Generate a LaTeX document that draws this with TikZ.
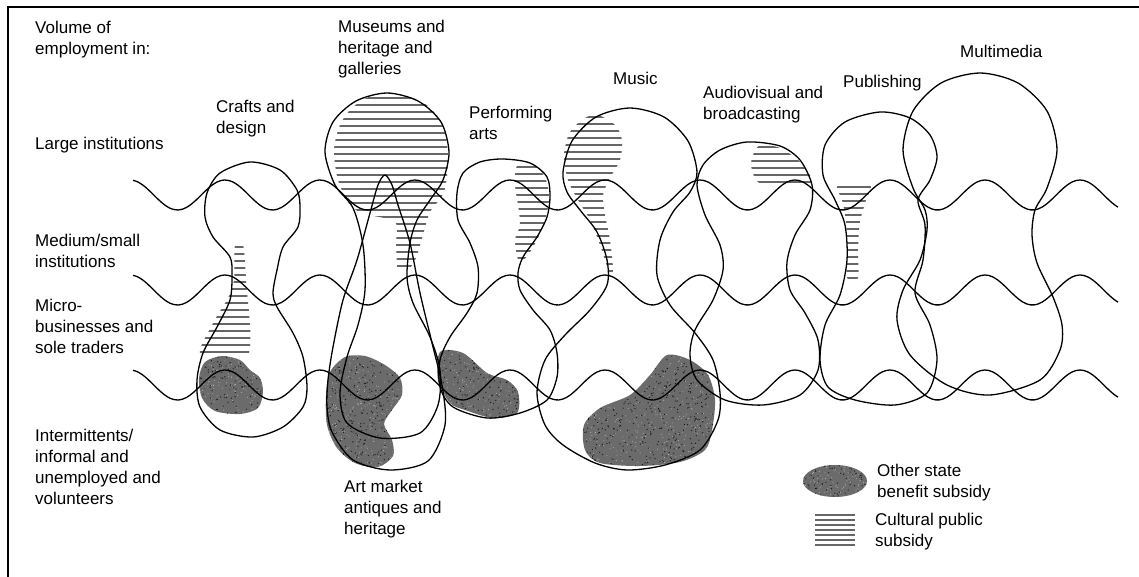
\documentclass[tikz,border=0pt]{standalone}
\usepackage{fontspec}
\setmainfont{Liberation Sans}

% speckles over a benefit blob: x, y, width, height, count
\newcommand{\specks}[5]{%
  \fill[benefit] (#1,#2) rectangle ++(#3,#4);
  \foreach \i in {1,...,#5} {
    \fill[black!90] ({#1+rnd*#3},{#2+rnd*#4}) circle (0.65pt);
    \fill[black!30] ({#1+rnd*#3},{#2+rnd*#4}) circle (0.5pt);
  }}

\begin{document}
\begin{tikzpicture}[
    x=1pt, y=-1pt,
    outline/.style={line width=1.3pt, line join=round},
    wave/.style={line width=1.3pt},
    hatch/.style={line width=1.8pt, draw=black!60},
    benefit/.style={fill=black!58},
    every node/.style={font=\fontsize{17}{21}\selectfont, inner sep=0pt, align=left, anchor=west}
]
\useasboundingbox (0,0) rectangle (1139,577);
\pgfmathsetseed{11}
\draw[line width=2pt] (8,590) -- (8,7) -- (1150,7);

% Other state benefit subsidy
\begin{scope}
  \clip plot[smooth cycle] coordinates {(205,362) (222,356) (240,360) (250,370) (260,378) (263,392) (258,408) (240,414) (215,411) (202,398) (199,378)};
  \specks{196}{352}{70}{65}{160}
\end{scope}
\begin{scope}
  \clip plot[smooth cycle] coordinates {(330,372) (345,357) (365,356) (385,365) (400,378) (402,395) (392,410) (384,424) (392,440) (393,456) (378,467) (355,463) (337,448) (327,425) (326,395)};
  \specks{322}{352}{84}{118}{300}
\end{scope}
\begin{scope}
  \clip plot[smooth cycle] coordinates {(440,352) (463,353) (487,373) (507,380) (518,392) (517,413) (493,418) (465,410) (450,403) (438,380)};
  \specks{434}{348}{88}{74}{200}
\end{scope}
\begin{scope}
  \clip plot[smooth cycle] coordinates {(667,355) (690,360) (708,375) (715,400) (712,430) (705,450) (680,462) (640,466) (600,463) (585,450) (584,425) (600,408) (630,395) (650,375)};
  \specks{580}{350}{140}{120}{480}
\end{scope}

% Cultural public subsidy
\begin{scope}
  \clip plot[smooth cycle] coordinates {(235,245) (243,245) (246,280) (248,355) (201,355) (212,325) (228,298) (234,280)};
  \foreach \y in {247,254,...,353} \draw[hatch] (195,\y) -- (252,\y);
\end{scope}
\begin{scope}
  \clip plot[smooth cycle] coordinates {(372,96) (405,96) (428,106) (444,128) (448,160) (444,192) (430,212) (423,235) (416,258) (408,270) (398,270) (396,245) (395,222) (365,214) (350,205) (338,180) (334,150) (340,125) (352,108)};
  \foreach \y in {98,105,...,270} \draw[hatch] (330,\y) -- (456,\y);
\end{scope}
\begin{scope}
  \clip plot[smooth cycle] coordinates {(517,166) (535,165) (546,180) (549,200) (545,220) (538,238) (528,255) (519,262) (515,240) (520,225) (518,205) (515,185)};
  \foreach \y in {167,174,...,262} \draw[hatch] (510,\y) -- (552,\y);
\end{scope}
\begin{scope}
  \clip plot[smooth cycle] coordinates {(598,115) (615,125) (622,140) (620,160) (610,178) (603,195) (605,215) (610,240) (613,270) (609,272) (600,245) (590,220) (578,200) (568,180) (564,155) (570,132) (585,118)};
  \foreach \y in {117,124,...,272} \draw[hatch] (560,\y) -- (625,\y);
\end{scope}
\begin{scope}
  \clip plot[smooth cycle] coordinates {(760,145) (780,148) (798,160) (808,172) (810,184) (762,184) (752,170) (752,158)};
  \foreach \y in {147,154,...,184} \draw[hatch] (748,\y) -- (812,\y);
\end{scope}
\begin{scope}
  \clip plot[smooth cycle] coordinates {(838,185) (870,185) (866,200) (860,222) (858,250) (858,278) (847,278) (847,250) (846,222) (842,200)};
  \foreach \y in {187,194,...,278} \draw[hatch] (835,\y) -- (872,\y);
\end{scope}

% Level boundaries
\foreach \c in {195,290,385}
  \draw[wave] plot[domain=133:1118, samples=260, smooth] (\x, {\c-15*cos((\x-225)*3.78947)});

% Sectors
\draw[outline] plot[smooth cycle] coordinates {(250,162) (280,170) (297,190) (300,207) (298,227) (283,247) (277,270) (273,293) (277,307) (293,333) (303,357) (307,387) (303,407) (283,427) (253,437) (220,430) (200,407) (197,380) (203,353) (217,327) (230,300) (232,275) (230,257) (213,237) (205,217) (207,193) (220,173)};
\draw[outline] plot[smooth cycle] coordinates {(387,93) (418,101) (441,122) (449,152) (443,180) (430,200) (417,220) (410,243) (407,277) (413,303) (430,337) (440,370) (438,405) (420,433) (380,438) (347,423) (340,393) (347,357) (358,325) (365,290) (363,245) (353,208) (335,185) (325,152) (333,122) (356,101)};
\draw[outline] plot[smooth cycle] coordinates {(385,175) (392,185) (398,205) (410,243) (420,293) (433,347) (442,385) (445,425) (428,461) (390,470) (353,460) (332,432) (327,407) (328,380) (333,347) (343,300) (357,260) (370,213) (378,185)};
\draw[outline] plot[smooth cycle] coordinates {(503,159) (530,163) (547,177) (550,197) (547,217) (537,237) (523,257) (518,273) (520,290) (533,310) (550,330) (557,353) (557,377) (547,400) (520,413) (487,418) (453,407) (440,387) (440,360) (450,337) (467,313) (477,293) (478,267) (470,243) (458,220) (457,193) (463,173) (480,162)};
\draw[outline] plot[smooth cycle] coordinates {(630,108) (664,117) (688,141) (697,172) (690,192) (673,212) (660,240) (657,275) (670,305) (695,333) (713,360) (720,393) (718,420) (700,450) (665,465) (627,470) (595,463) (563,445) (545,425) (537,393) (545,360) (565,335) (590,310) (607,285) (607,260) (597,232) (580,210) (567,192) (563,172) (572,141) (596,117)};
\draw[outline] plot[smooth cycle] coordinates {(747,142) (780,146) (800,160) (812,185) (810,210) (795,235) (787,262) (790,290) (805,313) (818,340) (818,370) (800,395) (763,405) (725,400) (697,380) (690,355) (695,330) (713,300) (723,270) (720,245) (705,215) (697,185) (703,165) (720,150)};
\draw[outline] plot[smooth cycle] coordinates {(880,112) (910,118) (930,135) (937,157) (930,180) (918,200) (925,225) (923,260) (915,293) (930,325) (937,360) (927,393) (895,405) (855,400) (828,387) (820,360) (825,325) (840,295) (847,260) (845,225) (835,200) (823,175) (825,145) (845,122)};
\draw[outline] plot[smooth cycle] coordinates {(980,73) (1018,83) (1047,111) (1057,150) (1047,188) (1035,210) (1032,235) (1037,263) (1053,297) (1062,325) (1060,350) (1040,380) (990,395) (947,385) (910,355) (897,320) (903,290) (920,260) (927,230) (925,210) (913,188) (903,150) (913,111) (941,83)};

% Level labels
\node (volume) at (35,39.5) {Volume of\\employment in:};
\node (large) at (35,145) {Large institutions};
\node (medium) at (35,251) {Medium/small\\institutions};
\node (micro) at (35,326) {Micro-\\businesses and\\sole traders};
\node (informal) at (35,466.5) {Intermittents/\\informal and\\unemployed and\\volunteers};

% Sector labels
\node (crafts) at (216,118.5) {Crafts and\\design};
\node (museums) at (338,49.5) {Museums and\\heritage and\\galleries};
\node (performing) at (469,122.5) {Performing\\arts};
\node (music) at (613,78) {Music};
\node (audiovisual) at (703,104.5) {Audiovisual and\\broadcasting};
\node (publishing) at (843,83) {Publishing};
\node (multimedia) at (960,51) {Multimedia};
\node (artmarket) at (344,509.5) {Art market\\antiques and\\heritage};

% Legend
\begin{scope}
  \clip (835,481) ellipse [x radius=32pt, y radius=16pt];
  \specks{800}{463}{70}{36}{110}
\end{scope}
\foreach \y in {515,520,...,545} \draw[hatch, line width=1.5pt] (815,\y) -- (855,\y);
\node (benefitkey) at (877,483) {Other state\\benefit subsidy};
\node (culturalkey) at (875,532) {Cultural public\\subsidy};
\end{tikzpicture}
\end{document}
